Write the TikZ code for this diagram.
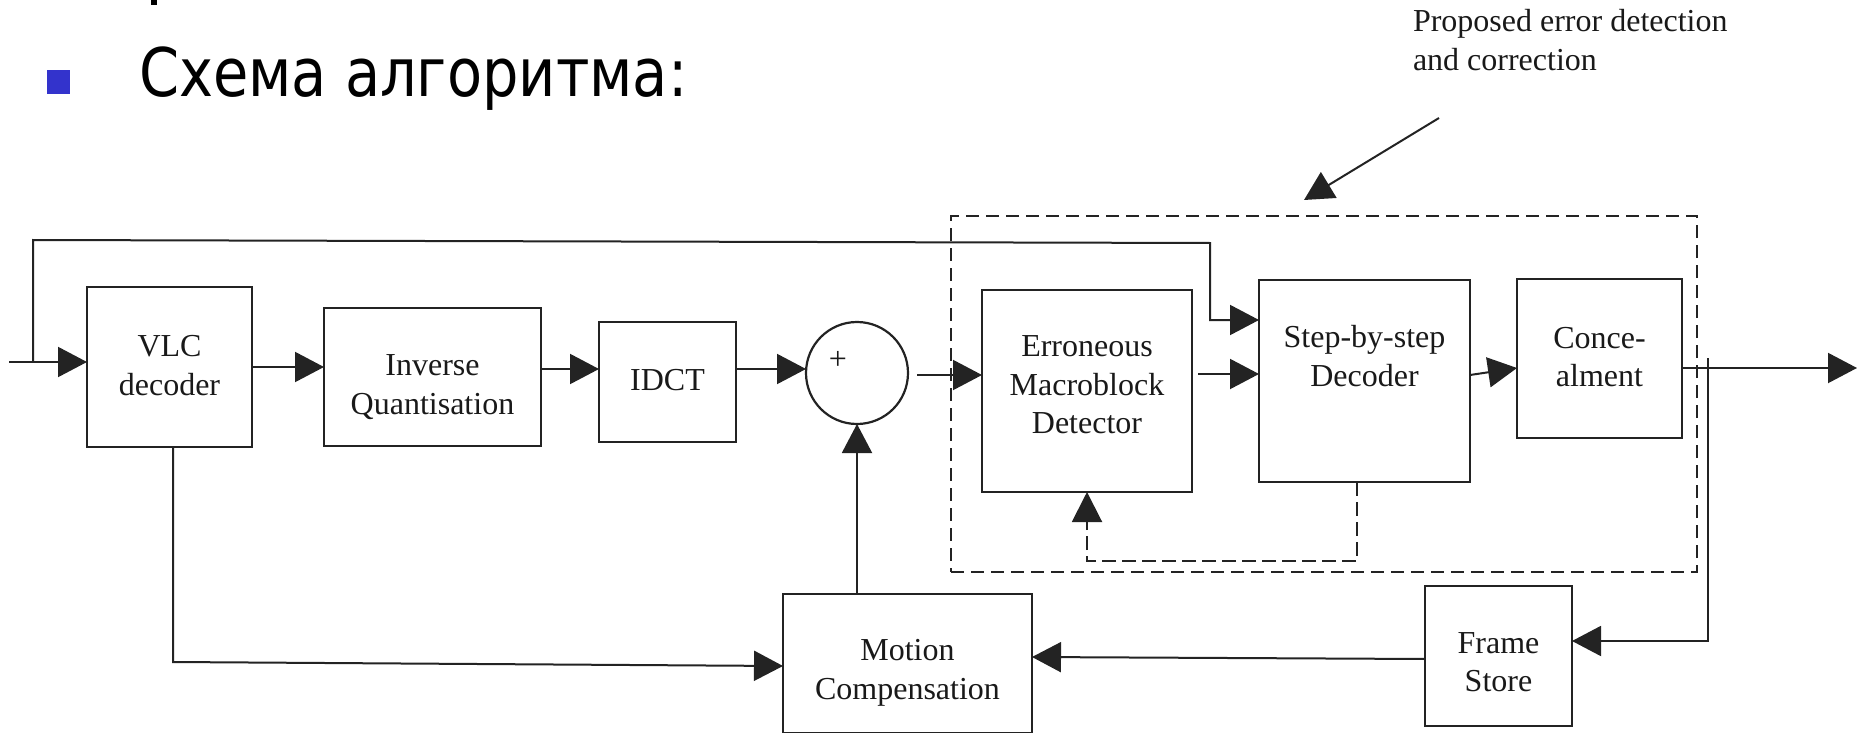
\documentclass[tikz,border=0pt]{standalone}
\usepackage{fontspec}
\usepackage{graphicx}
\setmainfont{Liberation Serif}
\newfontfamily\headfont{DejaVu Sans}
\usetikzlibrary{arrows.meta}
\definecolor{ink}{RGB}{35,35,35}
\definecolor{bulletblue}{RGB}{51,51,204}

\begin{document}
\begin{tikzpicture}[x=1pt,y=-1pt,
  every node/.style={inner sep=0pt,outer sep=0pt},
  box/.style={draw=ink,line width=2.2pt,rectangle},
  lbl/.style={font=\fontsize{32}{38.5}\selectfont,align=center,text=black!90},
  wire/.style={draw=ink,line width=2pt},
  arr/.style={wire,-{Triangle[length=29pt,width=30pt]}},
  grouped/.style={draw=ink,line width=2pt,dash pattern=on 13pt off 7pt},
  fback/.style={draw=ink,line width=2pt,dash pattern=on 14pt off 6pt,-{Triangle[length=30pt,width=30pt]}}]

\useasboundingbox (0,0) rectangle (1858,733);

% heading
\fill[black] (151,0) rectangle (157,5);
\node[fill=bulletblue,minimum width=23pt,minimum height=24pt] (bullet) at (58.5,82) {};
\node[anchor=base west,font=\headfont\fontsize{67}{80}\selectfont] (head) at (139,97)
  {\scalebox{0.857}[1]{Схема алгоритма:}};

% blocks
\node[box,minimum width=165pt,minimum height=160pt] (vlc) at (169.5,367) {};
\node[lbl] (vlc-t) at (169.5,365.4) {VLC\\decoder};
\node[box,minimum width=217pt,minimum height=138pt] (iq) at (432.5,377) {};
\node[lbl] (iq-t) at (432.5,387.3) {Inverse\\Quantisation};
\node[box,minimum width=137pt,minimum height=120pt] (idct) at (667.5,382) {};
\node[lbl] (idct-t) at (667.5,380.4) {IDCT};
\node[draw=ink,line width=2.2pt,circle,minimum size=102pt] (sum) at (857,373) {};
\node[lbl] (plus) at (838,360) {+};
\node[box,minimum width=210pt,minimum height=202pt] (emd) at (1087,391) {};
\node[lbl] (emd-t) at (1087,384.9) {Erroneous\\Macroblock\\Detector};
\node[box,minimum width=211pt,minimum height=202pt] (sbs) at (1364.5,381) {};
\node[lbl] (sbs-t) at (1364.5,356) {Step-by-step\\Decoder};
\node[box,minimum width=165pt,minimum height=159pt] (conc) at (1599.5,358.5) {};
\node[lbl] (conc-t) at (1599.5,356.9) {Conce-\\alment};
\node[box,minimum width=249pt,minimum height=139pt] (mc) at (907.5,663.5) {};
\node[lbl] (mc-t) at (907.5,672.9) {Motion\\Compensation};
\node[box,minimum width=147pt,minimum height=140pt] (fs) at (1498.5,656) {};
\node[lbl] (fs-t) at (1498.5,662.4) {Frame\\Store};

% proposed error detection and correction
\node[grouped,minimum width=746pt,minimum height=356pt] (group) at (1324,394) {};
\node[lbl,align=left,anchor=west] (note) at (1413,40) {Proposed error detection\\and correction};
\coordinate (callout) at (1439,118);
\coordinate (grouptip) at (1304,200);
\draw[arr] (callout) -- (grouptip);

% main path
\coordinate (in) at (9,362);
\draw[arr] (in) -- (in -| vlc.west);
\draw[arr] (vlc.east) -- (vlc.east -| iq.west);
\draw[arr] ([yshift=8pt]iq.east) coordinate (a2) -- (a2 -| idct.west);
\draw[arr] ([yshift=13pt]idct.east) coordinate (a3) -- (a3 -| sum.west);
\draw[arr] ([xshift=9pt,yshift=-2pt]sum.east) coordinate (a4) -- (a4 -| emd.west);
\draw[arr] ([xshift=6pt,yshift=17pt]emd.east) coordinate (a5) -- (a5 -| sbs.west);
\draw[arr] ([yshift=6pt]sbs.east) -- ([yshift=-9.5pt]conc.west);
\coordinate (out) at (1857,368);
\draw[arr] ([yshift=-9.5pt]conc.east) -- (out);

% bypass into the step-by-step decoder
\coordinate (tapL) at (33,362);
\coordinate (topL) at (33,240);
\coordinate (topR) at (1210,243);
\coordinate (sbsin) at (1210,320);
\draw[arr] (tapL) -- (topL) -- (topR) -- (sbsin) -- (sbsin -| sbs.west);

% output to frame store, then motion compensation
\coordinate (tapR) at (1708,358);
\coordinate (tapRb) at (1708,641);
\draw[arr] (tapR) -- (tapRb) -- (tapRb -| fs.east);
\draw[arr] ([yshift=-3pt]fs.west) -- ([yshift=6.5pt]mc.east);
\coordinate (vlcdown) at (173,662);
\draw[arr] ([xshift=3.5pt]vlc.south) -- (vlcdown) -- ([yshift=-2.5pt]mc.west);
\draw[arr] (sum.south |- mc.north) -- (sum.south);

% feedback from decoder to detector
\coordinate (fbR) at (1357,561);
\coordinate (fbL) at (1087,561);
\draw[fback] ([xshift=-7.5pt]sbs.south) -- (fbR) -- (fbL) -- (emd.south);
\end{tikzpicture}
\end{document}
